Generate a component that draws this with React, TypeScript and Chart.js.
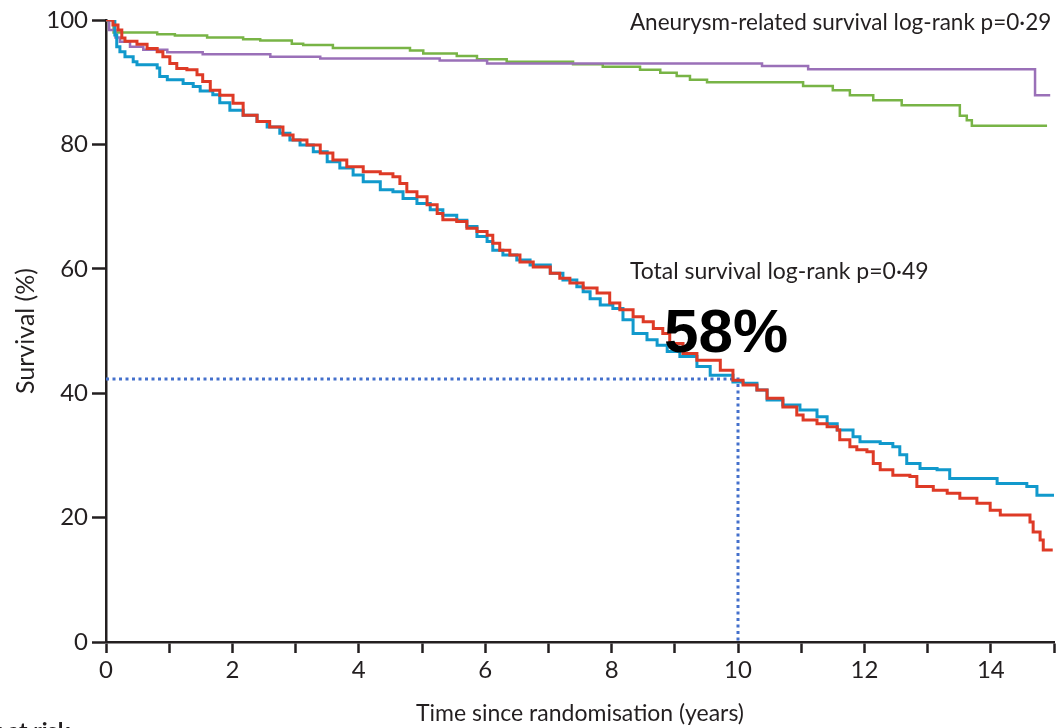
import React, { useEffect, useRef } from "react";
import { Chart, registerables } from "chart.js";

Chart.register(...registerables);

// ---- Data (time in years, survival in %) ----
const totalEvarT = [0, 0.14, 0.17, 0.22, 0.30, 0.43, 0.49, 0.81, 0.85, 0.97, 1.22, 1.38, 1.49, 1.69, 1.80, 1.96, 2.17, 2.39, 2.55, 2.75, 2.91, 3.07, 3.28, 3.50, 3.70, 3.91, 4.07, 4.34, 4.54, 4.70, 4.92, 5.13, 5.33, 5.55, 5.71, 5.87, 6.03, 6.12, 6.28, 6.50, 6.71, 7.03, 7.23, 7.45, 7.55, 7.66, 7.82, 8.02, 8.18, 8.34, 8.56, 8.72, 8.88, 9.08, 9.35, 9.56, 9.92, 10.08, 10.30, 10.46, 10.71, 10.98, 11.25, 11.41, 11.57, 11.82, 11.93, 12.25, 12.45, 12.56, 12.67, 12.88, 13.15, 13.35, 14.10, 14.57, 14.73, 15.0];
const totalEvarS = [100, 97.6, 95.7, 94.9, 94.1, 93.3, 92.8, 92.3, 90.9, 90.4, 89.8, 89.3, 88.6, 88.0, 86.7, 85.5, 84.7, 83.7, 82.8, 81.8, 80.7, 79.9, 78.8, 77.2, 76.2, 75.1, 74.0, 72.7, 72.4, 71.3, 70.5, 69.5, 68.6, 67.8, 66.8, 65.2, 64.4, 63.0, 62.2, 61.4, 60.6, 59.3, 58.2, 57.1, 56.3, 55.2, 54.2, 53.6, 51.8, 49.6, 48.6, 47.7, 46.7, 45.9, 44.3, 42.9, 41.8, 41.6, 40.5, 38.9, 38.1, 37.3, 36.2, 35.1, 34.1, 33.0, 32.2, 31.9, 31.4, 30.1, 28.7, 27.9, 27.7, 26.3, 25.5, 25.0, 23.6, 23.6];

const totalOpenT = [0, 0.11, 0.19, 0.25, 0.30, 0.49, 0.65, 0.81, 0.90, 1.01, 1.12, 1.28, 1.44, 1.53, 1.65, 1.80, 2.01, 2.17, 2.39, 2.59, 2.80, 2.96, 3.18, 3.39, 3.59, 3.81, 4.07, 4.34, 4.54, 4.65, 4.76, 4.92, 5.08, 5.24, 5.33, 5.55, 5.71, 5.87, 6.03, 6.12, 6.23, 6.39, 6.55, 6.76, 7.03, 7.18, 7.34, 7.55, 7.77, 7.97, 8.13, 8.34, 8.50, 8.66, 8.81, 8.92, 9.13, 9.35, 9.72, 9.92, 10.08, 10.30, 10.46, 10.71, 10.93, 11.03, 11.25, 11.41, 11.57, 11.61, 11.77, 11.88, 12.04, 12.14, 12.25, 12.45, 12.72, 12.83, 13.09, 13.31, 13.51, 13.78, 13.99, 14.15, 14.62, 14.67, 14.78, 14.83, 14.98];
const totalOpenS = [100, 99.2, 98.4, 97.1, 96.6, 96.1, 95.4, 94.9, 94.1, 93.0, 92.2, 92.0, 91.2, 90.1, 88.7, 87.9, 86.6, 84.7, 83.7, 82.8, 81.5, 80.7, 79.9, 78.6, 77.5, 76.4, 75.6, 75.3, 74.8, 73.7, 72.4, 71.6, 70.3, 68.9, 67.9, 67.6, 66.5, 66.0, 65.4, 64.1, 63.0, 62.2, 61.1, 60.3, 59.3, 58.5, 57.7, 56.9, 56.1, 54.5, 53.4, 52.3, 51.5, 50.4, 49.6, 48.0, 46.4, 45.3, 43.7, 42.1, 41.3, 40.5, 39.2, 37.8, 36.5, 35.7, 35.1, 34.6, 34.1, 32.5, 31.4, 30.9, 30.6, 28.7, 27.7, 26.8, 26.6, 25.0, 24.4, 23.9, 23.1, 22.3, 21.2, 20.4, 19.3, 17.7, 16.4, 14.8, 14.8];

const aneurysmEvarT = [0, 0.05, 0.15, 0.22, 0.38, 0.59, 0.97, 1.53, 2.60, 3.39, 5.28, 6.03, 10.38, 11.11, 14.70, 14.94];
const aneurysmEvarS = [100, 98.4, 97.2, 96.5, 95.7, 95.2, 94.8, 94.5, 94.1, 93.8, 93.5, 93.0, 92.6, 92.1, 87.9, 87.9];

const aneurysmOpenT = [0, 0.12, 0.81, 1.09, 1.60, 2.17, 2.44, 2.94, 3.12, 3.59, 4.81, 5.02, 5.55, 5.87, 6.34, 7.39, 7.86, 8.45, 8.77, 9.03, 9.24, 9.51, 11.03, 11.50, 11.77, 12.14, 12.59, 13.51, 13.62, 13.70, 14.89];
const aneurysmOpenS = [100, 98.0, 97.7, 97.5, 97.2, 96.9, 96.7, 96.2, 96.0, 95.5, 95.1, 94.6, 94.2, 93.7, 93.3, 92.9, 92.5, 92.0, 91.5, 91.0, 90.4, 90.0, 89.4, 88.7, 87.9, 87.1, 86.3, 84.6, 83.9, 83.0, 83.0];

const markerYear = 10;
const markerSurvival = 42.3;

const xTickValues = [0, 2, 4, 6, 8, 10, 12, 14];
const yTickValues = [0, 20, 40, 60, 80, 100];

const aneurysmLabel = "Aneurysm-related survival log-rank p=0·29";
const totalLabel = "Total survival log-rank p=0·49";
const bigLabel = "58%";
const xTitle = "Time since randomisation (years)";
const yTitle = "Survival (%)";
const riskLabel = "Number at risk";

const INK = "#231f20";
const FONT = "Lato";

function pts(t: number[], s: number[]) {
  return t.map((x, i) => ({ x, y: s[i] }));
}

const annotationPlugin = {
  id: "notes",
  afterDraw(chart: any) {
    const { ctx, scales } = chart;
    const xs = scales.x;
    const ys = scales.y;
    ctx.save();
    ctx.fillStyle = INK;
    ctx.textBaseline = "middle";
    ctx.textAlign = "left";
    ctx.font = `22.5px ${FONT}`;
    ctx.fillText(aneurysmLabel, xs.getPixelForValue(8.29), ys.getPixelForValue(99.6));
    ctx.font = `23px ${FONT}`;
    ctx.fillText(totalLabel, xs.getPixelForValue(8.29), ys.getPixelForValue(59.5));
    ctx.fillStyle = "#000";
    ctx.font = `bold 62px "Liberation Sans", Arial, sans-serif`;
    ctx.fillText(bigLabel, xs.getPixelForValue(8.83), ys.getPixelForValue(49.3));
    ctx.fillStyle = INK;
    ctx.font = `bold 23px ${FONT}`;
    ctx.textAlign = "right";
    ctx.textBaseline = "alphabetic";
    ctx.fillText(riskLabel, 70, 739);
    ctx.restore();
  },
};

export default function App() {
  const ref = useRef<HTMLCanvasElement | null>(null);
  useEffect(() => {
    if (!ref.current) return;
    const chart = new Chart(ref.current, {
      type: "line",
      data: {
        datasets: [
          {
            label: "Total survival open",
            data: pts(totalOpenT, totalOpenS),
            borderColor: "#de3a26",
            borderWidth: 3,
            stepped: true,
            pointRadius: 0,
            fill: false,
          },
          {
            label: "Total survival EVAR",
            data: pts(totalEvarT, totalEvarS),
            borderColor: "#1199cc",
            borderWidth: 3,
            stepped: true,
            pointRadius: 0,
            fill: false,
          },
          {
            label: "Aneurysm-related EVAR",
            data: pts(aneurysmEvarT, aneurysmEvarS),
            borderColor: "#9a70b8",
            borderWidth: 2.5,
            stepped: true,
            pointRadius: 0,
            fill: false,
          },
          {
            label: "Aneurysm-related open",
            data: pts(aneurysmOpenT, aneurysmOpenS),
            borderColor: "#78b446",
            borderWidth: 2.5,
            stepped: true,
            pointRadius: 0,
            fill: false,
          },
          {
            label: "Marker",
            data: [
              { x: 0, y: markerSurvival },
              { x: markerYear, y: markerSurvival },
              { x: markerYear, y: 0 },
            ],
            borderColor: "#4470cc",
            borderWidth: 3,
            borderDash: [3, 3.5],
            pointRadius: 0,
            fill: false,
          },
        ],
      },
      options: {
        animation: false,
        responsive: false,
        devicePixelRatio: 1,
        layout: { padding: { top: 20, right: 5, left: 0, bottom: 0 } },
        plugins: { legend: { display: false }, tooltip: { enabled: false } },
        scales: {
          x: {
            type: "linear",
            min: 0,
            max: 15,
            afterFit: (s: any) => {
              s.height = 86;
            },
            border: { display: true, color: INK, width: 2.5 },
            grid: {
              display: true,
              drawOnChartArea: false,
              drawTicks: true,
              tickLength: 11,
              tickWidth: 2.5,
              tickColor: INK,
            },
            ticks: {
              stepSize: 1,
              autoSkip: false,
              maxRotation: 0,
              padding: 3,
              color: INK,
              font: { family: FONT, size: 24 },
              callback: (v: any) => (xTickValues.includes(Number(v)) ? String(v) : ""),
            },
            title: {
              display: true,
              text: xTitle,
              color: INK,
              font: { family: FONT, size: 23 },
              padding: { top: 0, bottom: 1 },
            },
          },
          y: {
            min: 0,
            max: 100,
            afterFit: (s: any) => {
              s.width = 106;
            },
            border: { display: true, color: INK, width: 2.5 },
            grid: {
              display: true,
              drawOnChartArea: false,
              drawTicks: true,
              tickLength: 14,
              tickWidth: 2.5,
              tickColor: INK,
            },
            ticks: {
              stepSize: 20,
              padding: 4,
              color: INK,
              font: { family: FONT, size: 24 },
              callback: (v: any) => (yTickValues.includes(Number(v)) ? String(v) : ""),
            },
            title: {
              display: true,
              text: yTitle,
              color: INK,
              font: { family: FONT, size: 25 },
              padding: { top: 11, bottom: 0 },
            },
          },
        },
      },
      plugins: [annotationPlugin],
    });
    return () => chart.destroy();
  }, []);
  return (
    <div style={{ position: "absolute", left: 0, top: 0, width: 1059, height: 728, background: "#fff" }}>
      <canvas ref={ref} width={1059} height={728} />
    </div>
  );
}
